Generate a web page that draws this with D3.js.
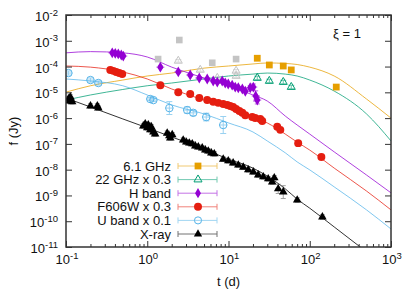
<!DOCTYPE html>
<html>
<head>
<meta charset="utf-8">
<script src="https://cdn.jsdelivr.net/npm/d3@7"></script>
<style>
  body { margin: 0; background: #fff; }
  text { font-family: "Liberation Sans", Arial, sans-serif; fill: #111; }
</style>
</head>
<body>
<div id="chart"></div>
<script>
// ---- data (t in days, f in Jy) ----
const ghz6T = [22.6, 31.8, 47.2, 59.2, 212];
const ghz6F = [2.1e-4, 1.15e-4, 1.05e-4, 7.4e-5, 1.6e-5];

const ghz22T = [22.6, 31.8, 47.2, 59.2];
const ghz22F = [3.6e-5, 2.75e-5, 2.5e-5, 1.6e-5];

// grey points (not in the key)
const greySqT = [1.36, 2.48, 6.31, 12.4];
const greySqF = [1.95e-4, 1.07e-3, 1.4e-4, 1.95e-4];
const greyTriT = [2.41, 4.49, 7.28, 12.4, 12.4];
const greyTriF = [1.66e-4, 7.4e-5, 3.6e-5, 6.8e-5, 4.3e-5];

const hT = [0.371, 0.404, 0.44, 0.479, 0.507, 1.45, 2.41, 3.38, 4.37, 5.47, 6.49, 7.28,
            8.37, 9.12, 9.93, 11.1, 12.1, 13.2, 14.8, 16.1, 18.5, 20.2, 21.6, 22.6];
const hF = [3.4e-4, 3.25e-4, 3.1e-4, 2.8e-4, 2.55e-4, 9.5e-5, 6.2e-5, 4.7e-5, 3.6e-5, 3.3e-5, 2.75e-5, 2.5e-5,
            2.75e-5, 2.3e-5, 2.1e-5, 1.9e-5, 1.6e-5, 1.5e-5, 1.35e-5, 1.1e-5, 1.5e-5, 1.6e-5, 7.2e-6, 5.0e-6];
const hErr = [0.04, 0.04, 0.04, 0.04, 0.04, 0.05, 0.05, 0.05, 0.05, 0.05, 0.05, 0.05,
              0.05, 0.05, 0.05, 0.05, 0.05, 0.05, 0.05, 0.06, 0.08, 0.12, 0.2, 0.15];

const rT = [0.351, 0.382, 0.415, 0.452, 0.492, 1.45, 2.41, 3.38, 4.37, 5.47, 6.49, 7.48, 8.61, 9.66,
            10.5, 11.4, 12.4, 13.6, 14.8, 16.1, 19.6, 21.3, 24.6, 26.0, 39.8, 43.4, 72.1, 139];
const rF = [7.4e-5, 6.8e-5, 6.2e-5, 5.6e-5, 5.1e-5, 1.9e-5, 1.0e-5, 8.7e-6, 6.0e-6, 5.0e-6, 4.3e-6, 3.9e-6, 3.55e-6, 3.25e-6,
            2.95e-6, 2.7e-6, 2.25e-6, 1.9e-6, 1.6e-6, 1.3e-6, 1.1e-6, 1.0e-6, 9.3e-7, 7.8e-7, 4.6e-7, 3.5e-7, 1.07e-7, 3.1e-8];

const uT = [0.107, 0.20, 0.25, 1.09, 1.19, 1.87, 3.10, 3.68, 5.32, 8.61];
const uF = [5.6e-5, 3.0e-5, 2.3e-5, 5.5e-6, 5.0e-6, 2.45e-6, 2.05e-6, 1.6e-6, 1.1e-6, 5.4e-7];
const uErr = [0.08, 0.08, 0.08, 0.06, 0.06, 0.25, 0.12, 0.1, 0.15, 0.33];

const xT = [0.107, 0.110, 0.113, 0.116, 0.119, 0.20, 0.243, 0.25, 0.893, 0.944, 1.0, 1.03, 1.09, 1.12, 1.19, 1.25,
            1.76, 1.87, 1.92, 2.03, 2.77, 3.02, 3.29, 3.58, 3.90, 4.25, 4.75, 5.18, 5.64, 6.14, 6.68, 8.61,
            9.93, 11.4, 13.2, 15.2, 17.5, 20.2, 23.2, 26.8, 30.8, 34.5, 36.6, 40.9, 47.2, 70.1, 143];
const xF = [5.5e-6, 4.6e-6, 6.6e-6, 5.0e-6, 4.3e-6, 2.95e-6, 2.95e-6, 2.45e-6, 4.9e-7, 5.9e-7, 4.2e-7, 5.4e-7, 3.5e-7, 4.6e-7, 2.9e-7, 2.4e-7,
            2.6e-7, 2.05e-7, 1.7e-7, 2.25e-7, 1.4e-7, 1.17e-7, 1.07e-7, 1.0e-7, 8.3e-8, 7.6e-8, 6.9e-8, 5.75e-8, 5.25e-8, 4.45e-8, 4.1e-8, 2.55e-8,
            2.2e-8, 1.8e-8, 1.5e-8, 1.25e-8, 9.8e-9, 8.1e-9, 6.2e-9, 5.25e-9, 4.4e-9, 3.3e-9, 4.8e-9, 1.8e-9, 1.35e-9, 6.6e-10, 1.45e-10];

// model light curves, sampled on a common time grid
const modelT = [0.1, 0.2, 0.5, 1, 2, 5, 10, 20, 30, 50, 70, 100, 200, 500, 1000];
const model6 = [1.02e-5, 1.8e-5, 3.0e-5, 4.3e-5, 5.6e-5, 8.7e-5, 1.05e-4, 1.26e-4, 1.38e-4, 1.32e-4, 1.2e-4, 9.5e-5, 4.3e-5, 5.5e-6, 1.0e-6];
const model22 = [5.0e-6, 7.9e-6, 1.29e-5, 1.8e-5, 2.3e-5, 3.3e-5, 4.3e-5, 5.1e-5, 5.6e-5, 5.1e-5, 4.3e-5, 3.0e-5, 1.12e-5, 1.45e-6, 1.3e-7];
const modelH = [3.4e-4, 3.8e-4, 3.4e-4, 2.35e-4, 9.5e-5, 3.6e-5, 1.8e-5, 7.9e-6, 4.6e-6, 1.2e-6, 5.4e-7, 2.4e-7, 4.9e-8, 6.2e-9, 1.26e-9];
const modelR = [1.05e-4, 9.5e-5, 6.2e-5, 3.3e-5, 1.35e-5, 5.0e-6, 2.45e-6, 1.1e-6, 6.5e-7, 2.4e-7, 1.17e-7, 5.75e-8, 1.15e-8, 1.48e-9, 2.75e-10];
const modelU = [3.3e-5, 2.75e-5, 1.8e-5, 7.9e-6, 3.25e-6, 1.45e-6, 6.5e-7, 2.9e-7, 1.3e-7, 4.5e-8, 2.0e-8, 9.8e-9, 2.15e-9, 2.75e-10, 5.0e-11];
const modelX = [6.0e-6, 2.7e-6, 9.3e-7, 4.2e-7, 1.86e-7, 6.3e-8, 2.55e-8, 1.15e-8, 5.6e-9, 1.8e-9, 7.2e-10, 3.2e-10, 6.0e-11, 6.5e-12, 1.2e-12];

const xTickExp = [-1, 0, 1, 2, 3];
const yTickExp = [-11, -10, -9, -8, -7, -6, -5, -4, -3, -2];
const legendLabels = ["6.1 GHz", "22 GHz x 0.3", "H band", "F606W x 0.3", "U band x 0.1", "X-ray"];

// ---- colours ----
const cOrange = "#e69f00", cGreen = "#009e73", cPurple = "#9400d3",
      cRed = "#e51e10", cBlue = "#56b4e9", cBlack = "#000", cGrey = "#c4c4c4";

// ---- layout ----
const W = 415, H = 290;
const margin = {top: 15, right: 24, bottom: 43, left: 66};
const x0 = margin.left, x1 = W - margin.right, y0 = margin.top, y1 = H - margin.bottom;

const x = d3.scaleLog().domain([0.1, 1000]).range([x0, x1]);
const y = d3.scaleLog().domain([1e-11, 1e-2]).range([y1, y0]);

const svg = d3.select("#chart").append("svg").attr("width", W).attr("height", H);

svg.append("clipPath").attr("id", "clip")
  .append("rect").attr("x", x0).attr("y", y0).attr("width", x1 - x0).attr("height", y1 - y0);

const plot = svg.append("g").attr("clip-path", "url(#clip)");

// model curves
const line = d3.line().x(d => x(d[0])).y(d => y(d[1])).curve(d3.curveMonotoneX);
[[model6, cOrange], [model22, cGreen], [modelH, cPurple], [modelR, cRed], [modelU, cBlue], [modelX, cBlack]]
  .forEach(([vals, col]) => {
    plot.append("path")
      .attr("d", line(modelT.map((t, i) => [t, vals[i]])))
      .attr("fill", "none").attr("stroke", col).attr("stroke-width", 1)
      .attr("opacity", col === cBlack ? 0.8 : 0.75);
  });

// error bars (vertical, in dex)
function errBars(ts, fs, errs, col, cap, horiz) {
  const g = plot.append("g").attr("stroke", col).attr("stroke-width", 1).attr("opacity", 0.6);
  ts.forEach((t, i) => {
    const e = errs[i], px = x(t);
    const yt = y(fs[i] * Math.pow(10, e)), yb = y(fs[i] / Math.pow(10, e));
    g.append("line").attr("x1", px).attr("x2", px).attr("y1", yt).attr("y2", yb);
    g.append("line").attr("x1", px - cap).attr("x2", px + cap).attr("y1", yt).attr("y2", yt);
    g.append("line").attr("x1", px - cap).attr("x2", px + cap).attr("y1", yb).attr("y2", yb);
    if (horiz) g.append("line").attr("x1", px - horiz).attr("x2", px + horiz)
      .attr("y1", y(fs[i])).attr("y2", y(fs[i]));
  });
}

function symbols(ts, fs, type, size, fill, stroke) {
  plot.append("g").selectAll("path")
    .data(ts.map((t, i) => [t, fs[i]]))
    .join("path")
    .attr("transform", d => `translate(${x(d[0])},${y(d[1])})`)
    .attr("d", d3.symbol().type(type).size(size))
    .attr("fill", fill).attr("stroke", stroke).attr("stroke-width", 1);
}

// grey points
symbols(greySqT, greySqF, d3.symbolSquare, 44, cGrey, "none");
errBars(greyTriT, greyTriF, greyTriT.map(() => 0.05), cGrey, 3, 0);
symbols(greyTriT, greyTriF, d3.symbolTriangle, 28, "none", cGrey);

// X-ray
errBars(xT, xF, xT.map((t, i) => (i === 44 ? 0.25 : i === 43 ? 0.18 : 0.09)), "#666", 2.5, 3);
symbols(xT, xF, d3.symbolTriangle, 32, cBlack, "none");

// U band
errBars(uT, uF, uErr, cBlue, 3, 4);
symbols(uT, uF, d3.symbolCircle, 44, "none", cBlue);

// F606W
symbols(rT, rF, d3.symbolCircle, 50, cRed, "none");

// H band
errBars(hT, hF, hErr, cPurple, 2.5, 4);
symbols(hT, hF, d3.symbolDiamond, 34, cPurple, "none");

// 22 GHz
errBars(ghz22T, ghz22F, ghz22T.map(() => 0.07), cGreen, 3, 0);
symbols(ghz22T, ghz22F, d3.symbolTriangle, 28, "none", cGreen);

// 6.1 GHz
symbols(ghz6T, ghz6F, d3.symbolSquare, 46, cOrange, "none");

// ---- axes (ticks inside, mirrored) ----
const ink = "#333";
const xMajor = xTickExp.map(e => Math.pow(10, e));
const xMinor = [];
xTickExp.slice(0, -1).forEach(e => { for (let m = 2; m <= 9; m++) xMinor.push(m * Math.pow(10, e)); });
const yMajor = yTickExp.map(e => Math.pow(10, e));

function ticks(axis, vals, size, tr) {
  svg.append("g").attr("transform", tr)
    .call(axis.tickValues(vals).tickSize(size).tickSizeOuter(0).tickFormat(""))
    .call(g => g.select(".domain").remove())
    .call(g => g.selectAll("line").attr("stroke", ink).attr("stroke-width", 1));
}
ticks(d3.axisBottom(x), xMajor, -6, `translate(0,${y1})`);
ticks(d3.axisBottom(x), xMinor, -3, `translate(0,${y1})`);
ticks(d3.axisTop(x), xMajor, -6, `translate(0,${y0})`);
ticks(d3.axisTop(x), xMinor, -3, `translate(0,${y0})`);
ticks(d3.axisLeft(y), yMajor, -6, `translate(${x0},0)`);
ticks(d3.axisRight(y), yMajor, -6, `translate(${x1},0)`);

svg.append("rect").attr("x", x0).attr("y", y0).attr("width", x1 - x0).attr("height", y1 - y0)
  .attr("fill", "none").attr("stroke", ink).attr("stroke-width", 1.5);

function powLabel(sel, e) {
  sel.append("tspan").text("10");
  sel.append("tspan").attr("dy", -5.5).attr("font-size", 9.5).text(e);
}
xTickExp.forEach(e => {
  svg.append("text").attr("x", x(Math.pow(10, e)) + 1).attr("y", y1 + 17)
    .attr("text-anchor", "middle").attr("font-size", 13).call(powLabel, e);
});
yTickExp.forEach(e => {
  svg.append("text").attr("x", x0 - 8).attr("y", y(Math.pow(10, e)) + 6)
    .attr("text-anchor", "end").attr("font-size", 13).call(powLabel, e);
});

svg.append("text").attr("x", (x0 + x1) / 2).attr("y", y1 + 39)
  .attr("text-anchor", "middle").attr("font-size", 13).text("t (d)");
svg.append("text").attr("transform", `translate(18,${(y0 + y1) / 2}) rotate(-90)`)
  .attr("text-anchor", "middle").attr("font-size", 13).text("f (Jy)");
svg.append("text").attr("x", 333).attr("y", 38).attr("font-size", 13).text("ξ = 1");

// ---- key ----
const keyStyle = [
  [cOrange, d3.symbolSquare, 46, cOrange, "none"],
  [cGreen, d3.symbolTriangle, 28, "none", cGreen],
  [cPurple, d3.symbolDiamond, 30, cPurple, "none"],
  [cRed, d3.symbolCircle, 50, cRed, "none"],
  [cBlue, d3.symbolCircle, 40, "none", cBlue],
  [cBlack, d3.symbolTriangle, 30, cBlack, "none"]
];
legendLabels.forEach((lab, i) => {
  const yy = 166 + i * 13.6;
  const [col, type, size, fill, stroke] = keyStyle[i];
  svg.append("text").attr("x", 171).attr("y", yy + 4.5).attr("text-anchor", "end")
    .attr("font-size", 13).text(lab);
  const g = svg.append("g").attr("stroke", col).attr("stroke-width", 1).attr("opacity", 0.55);
  g.append("line").attr("x1", 178).attr("x2", 217).attr("y1", yy).attr("y2", yy);
  g.append("line").attr("x1", 178).attr("x2", 178).attr("y1", yy - 3).attr("y2", yy + 3);
  g.append("line").attr("x1", 217).attr("x2", 217).attr("y1", yy - 3).attr("y2", yy + 3);
  svg.append("path").attr("transform", `translate(198,${yy})`)
    .attr("d", d3.symbol().type(type).size(size))
    .attr("fill", fill).attr("stroke", stroke).attr("stroke-width", 1);
});
</script>
</body>
</html>
